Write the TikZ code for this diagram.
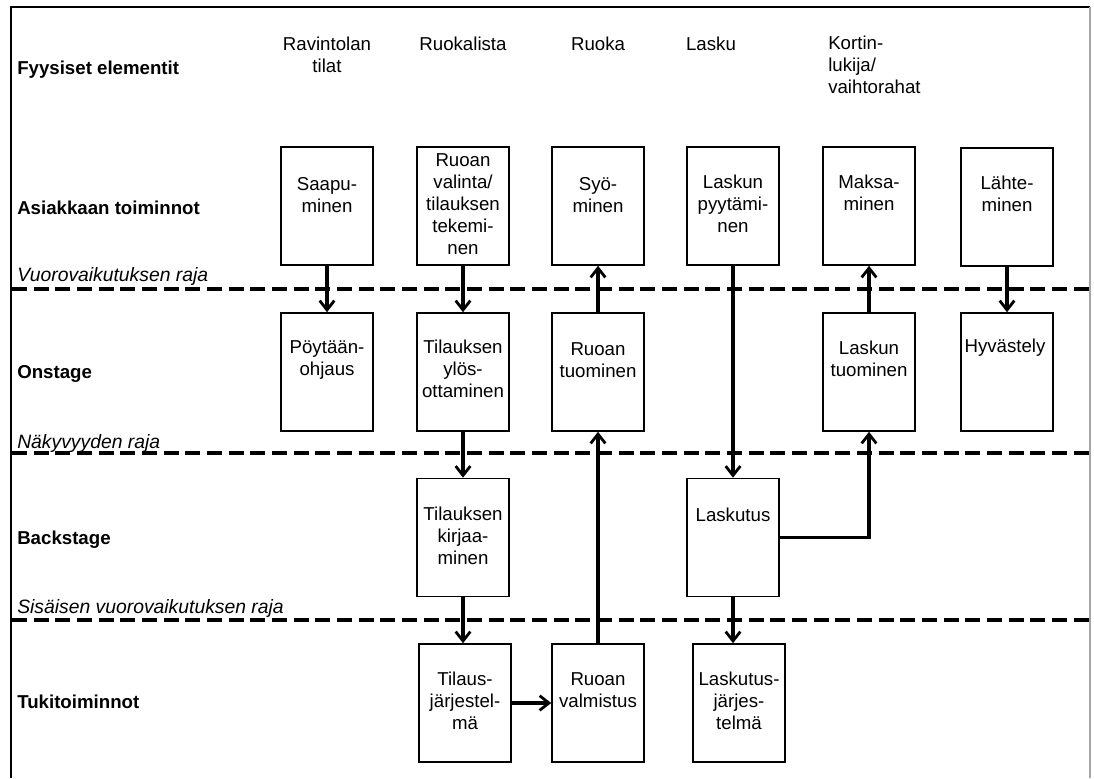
\documentclass[tikz,border=0pt]{standalone}
\usepackage{fontspec}
\setmainfont{Liberation Sans}
\usetikzlibrary{arrows.meta}
\begin{document}
\begin{tikzpicture}[x=0.75pt,y=-0.75pt,
  font=\fontsize{14pt}{16.5pt}\selectfont,
  stepbox/.style={draw, line width=1.2pt, fill=white, minimum width=69pt,
    minimum height=88.5pt, inner sep=0pt},
  boxtext/.style={align=center, inner sep=0pt},
  rowlabel/.style={anchor=base west, inner sep=0pt,
    font=\fontsize{14pt}{16.5pt}\selectfont\bfseries},
  lanelabel/.style={anchor=base west, inner sep=0pt,
    font=\fontsize{14.5pt}{16.5pt}\selectfont\itshape},
  collabel/.style={align=center, inner sep=0pt},
  flow/.style={line width=2.3pt,
    -{Straight Barb[length=7pt,width=11pt,line width=2.1pt]}},
  lanedash/.style={line width=2.3pt, dash pattern=on 11.25pt off 5pt},
]
\useasboundingbox (0,0) rectangle (1094,778);

% frame
\draw[line width=2pt] (11,778) -- (11,7) -- (1090,7);
\draw[gray!70, line width=1pt] (1090,7) -- (1090,778);

% lane boundaries
\draw[lanedash] (12,289) -- (1094,289);
\draw[lanedash] (12,453) -- (1094,453);
\draw[lanedash] (12,620) -- (1094,620);

% row labels
\node[rowlabel] (lFyys) at (17,74) {Fyysiset elementit};
\node[rowlabel] (lAsiak) at (17,214) {Asiakkaan toiminnot};
\node[lanelabel] (lVuoro) at (17,281) {Vuorovaikutuksen raja};
\node[rowlabel] (lOn) at (17,378) {Onstage};
\node[lanelabel] (lNaky) at (17,448) {Näkyvyyden raja};
\node[rowlabel] (lBack) at (17,544) {Backstage};
\node[lanelabel] (lSis) at (17,613) {Sisäisen vuorovaikutuksen raja};
\node[rowlabel] (lTuki) at (17,708) {Tukitoiminnot};

% physical evidence
\node[collabel] (cTilat) at (327,55) {Ravintolan\\tilat};
\node[collabel, anchor=base] (cLista) at (463,50) {Ruokalista};
\node[collabel, anchor=base] (cRuoka) at (598,50) {Ruoka};
\node[collabel, anchor=base] (cLasku) at (711,50) {Lasku};
\node[collabel, align=left, anchor=west] (cKortti) at (828,65) {Kortin-\\lukija/\\vaihtorahat};

% customer actions
\node[stepbox] (saap) at (327,206) {};
\node[boxtext] (saapT) at (327,195) {Saapu-\\minen};
\node[stepbox] (valinta) at (463,206) {};
\node[boxtext] (valintaT) at (463,204) {Ruoan\\valinta/\\tilauksen\\tekemi-\\nen};
\node[stepbox] (syo) at (598,206) {};
\node[boxtext] (syoT) at (598,195) {Syö-\\minen};
\node[stepbox] (pyyt) at (733,206) {};
\node[boxtext] (pyytT) at (733,204) {Laskun\\pyytämi-\\nen};
\node[stepbox] (maksa) at (869,206) {};
\node[boxtext] (maksaT) at (869,193) {Maksa-\\minen};
\node[stepbox] (lahte) at (1007,207) {};
\node[boxtext] (lahteT) at (1007,194) {Lähte-\\minen};

% onstage
\node[stepbox] (poyta) at (327,372) {};
\node[boxtext] (poytaT) at (327,360) {Pöytään-\\ohjaus};
\node[stepbox] (tilyl) at (463,372) {};
\node[boxtext] (tilylT) at (463,369) {Tilauksen\\ylös-\\ottaminen};
\node[stepbox] (tuom) at (598,372) {};
\node[boxtext] (tuomT) at (598,360) {Ruoan\\tuominen};
\node[stepbox] (ltuom) at (869,372) {};
\node[boxtext] (ltuomT) at (869,359) {Laskun\\tuominen};
\node[stepbox] (hyv) at (1007,372) {};
\node[boxtext] (hyvT) at (1005,348) {Hyvästely};

% backstage
\node[stepbox] (kirj) at (463,537.5) {};
\node[boxtext] (kirjT) at (463,536) {Tilauksen\\kirjaa-\\minen};
\node[stepbox] (lasku) at (733,537.5) {};
\node[boxtext] (laskuT) at (733,515) {Laskutus};

% support processes
\node[stepbox] (tilj) at (465,703) {};
\node[boxtext] (tiljT) at (465,701) {Tilaus-\\järjestel-\\mä};
\node[stepbox] (rval) at (598,703) {};
\node[boxtext] (rvalT) at (598,690) {Ruoan\\valmistus};
\node[stepbox] (lskj) at (739,703) {};
\node[boxtext] (lskjT) at (739,701) {Laskutus-\\järjes-\\telmä};

% flows
\draw[flow] (saap) -- (poyta);
\draw[flow] (valinta) -- (tilyl);
\draw[flow] (tuom) -- (syo);
\draw[flow] (ltuom) -- (maksa);
\draw[flow] (lahte) -- (hyv);
\draw[flow] (tilyl) -- (kirj);
\draw[flow] (kirj.south) -- (kirj.south |- tilj.north);
\draw[flow] (pyyt) -- (lasku);
\draw[flow] (rval) -- (tuom);
\draw[flow] (lasku.east) -| (ltuom);
\draw[flow] (tilj) -- (rval);
\draw[flow] (lasku.south) -- (lasku.south |- lskj.north);
\end{tikzpicture}
\end{document}
